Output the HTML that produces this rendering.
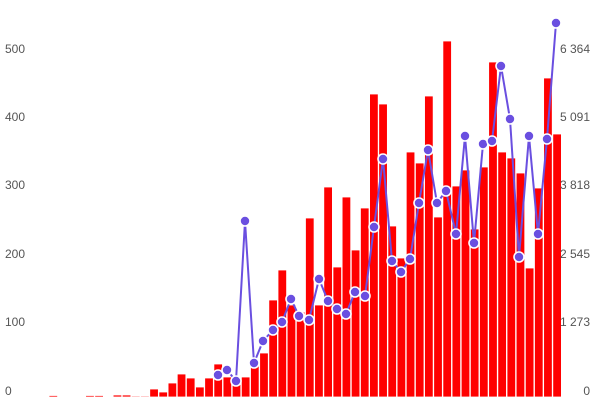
<!DOCTYPE html>
<html><head><meta charset="utf-8"><style>
html,body{margin:0;padding:0;background:#fff;width:600px;height:406px;overflow:hidden}
svg text{font-family:"Liberation Sans",sans-serif;font-size:12px;fill:#555}
</style></head><body>
<svg width="600" height="406" viewBox="0 0 600 406" xmlns="http://www.w3.org/2000/svg">
<g fill="#ff0000" stroke="#fff" stroke-width="0.8" id="bars"></g>
<polyline id="ln" fill="none" stroke="#6a4fe0" stroke-width="2" stroke-linejoin="round"/>
<g id="dots" fill="#6a4fe0" stroke="#fff" stroke-width="1.6"></g>
<g>
<text x="5" y="53">500</text>
<text x="5" y="121">400</text>
<text x="5" y="189">300</text>
<text x="5" y="258">200</text>
<text x="5" y="326">100</text>
<text x="5" y="395">0</text>
</g>
<g text-anchor="end">
<text x="590" y="53">6 364</text>
<text x="590" y="121">5 091</text>
<text x="590" y="189">3 818</text>
<text x="590" y="258">2 545</text>
<text x="590" y="326">1 273</text>
<text x="590" y="395">0</text>
</g>
<script>
var tops=[395.5,397,397,397,395.5,395.5,397,395,395,396,396,389,392,383,374,378,387,378,364,377,378,377,360,353,300,270,305,312,218,305,187,267,197,250,208,94,104,226,258,152,163,96,217,41,186,170,229,167,62,152,158,173,268,188,78,134];
var dots=[[218,375],[227,370],[236,381],[245,221],[254,363],[263,341],[273,330],[282,322],[291,299],[299,316],[309,320],[319,279],[328,301],[337,309],[346,314],[355,292],[365,296],[374,227],[383,159],[392,261],[401,272],[410,259],[419,203],[428,150],[437,203],[446,191],[456,234],[465,136],[474,243],[483,144],[492,141],[501,66],[510,119],[519,257],[529,136],[538,234],[547,139],[556,23]];
var ns="http://www.w3.org/2000/svg",g=document.getElementById("bars");
tops.forEach(function(t,i){if(t>=397)return;var r=document.createElementNS(ns,"rect");var x=49+i*9.16;r.setAttribute("x",x);r.setAttribute("y",t);r.setAttribute("width",8.6);r.setAttribute("height",397-t);g.appendChild(r);});
document.getElementById("ln").setAttribute("points",dots.map(function(d){return d.join(",")}).join(" "));
var dg=document.getElementById("dots");
dots.forEach(function(d){var c=document.createElementNS(ns,"circle");c.setAttribute("cx",d[0]);c.setAttribute("cy",d[1]);c.setAttribute("r",5);dg.appendChild(c);});
</script>
</svg>
</body></html>
